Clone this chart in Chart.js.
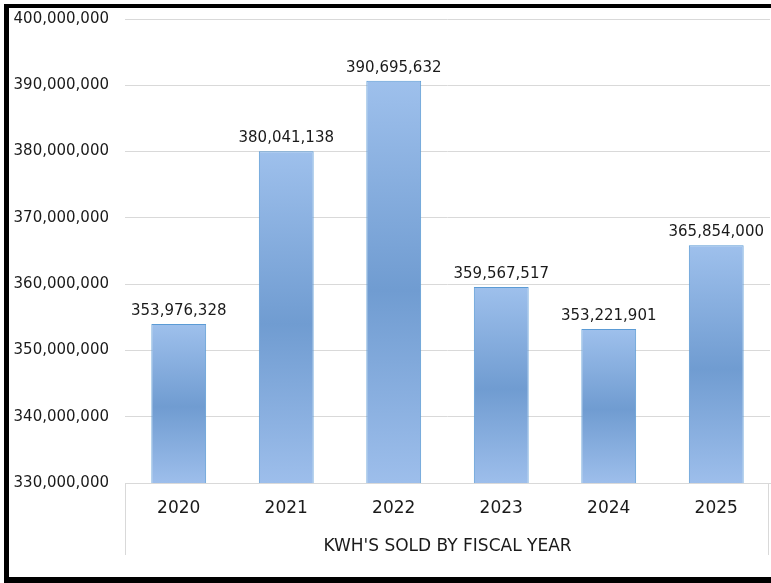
<!DOCTYPE html>
<html>
<head>
<meta charset="utf-8">
<script src="https://cdn.jsdelivr.net/npm/chart.js@4"></script>
<style>
  html, body { margin: 0; padding: 0; background: #fff; overflow: hidden; }
  #wrap { position: relative; width: 771px; height: 583px; overflow: hidden; }
  #kwh { position: absolute; left: 0; top: 0; }
  .rule { position: absolute; background: #000; pointer-events: none; }
</style>
</head>
<body>
<div id="wrap">
  <canvas id="kwh" width="771" height="583"></canvas>
  <div class="rule" style="left:4px; top:4px; width:767px; height:4px;"></div>
  <div class="rule" style="left:4px; top:4px; width:5px; height:579px;"></div>
  <div class="rule" style="left:4px; top:577px; width:767px; height:6px;"></div>
</div>
<script>
// Fiscal years and kilowatt-hours sold
const years = ['2020', '2021', '2022', '2023', '2024', '2025'];
const kwhSold = [353976328, 380041138, 390695632, 359567517, 353221901, 365854000];
const axisTitle = "KWH'S SOLD BY FISCAL YEAR";
const yMin = 330000000;
const yMax = 400000000;
const yStep = 10000000;

const FONT = 'DejaVu Sans, Verdana, sans-serif';
const TEXT = '#1a1a1a';
const GRID = '#d9d9d9';

const fmt = v => v.toLocaleString('en-US');

// Vertical shading per bar: light at both ends, darker around the middle
function barFill(ctx) {
  const chart = ctx.chart;
  const area = chart.chartArea;
  if (!area || ctx.raw == null) return '#8fb2e2';
  const top = chart.scales.y.getPixelForValue(ctx.raw);
  const g = chart.ctx.createLinearGradient(0, top, 0, area.bottom);
  g.addColorStop(0, '#9ec0ec');
  g.addColorStop(0.52, '#709cd1');
  g.addColorStop(1, '#9dbeeb');
  return g;
}

// Value labels above bars, category box lines and axis caption
const decorations = {
  id: 'decorations',
  afterDatasetsDraw(chart) {
    const { ctx } = chart;
    const meta = chart.getDatasetMeta(0);
    ctx.save();
    ctx.fillStyle = TEXT;
    ctx.font = '15px ' + FONT;
    ctx.textAlign = 'center';
    ctx.textBaseline = 'middle';
    meta.data.forEach((bar, i) => {
      ctx.fillText(fmt(kwhSold[i]), bar.x, bar.y - 13);
    });
    ctx.restore();
  },
  afterDraw(chart) {
    const { ctx, chartArea } = chart;
    ctx.save();
    ctx.strokeStyle = GRID;
    ctx.lineWidth = 1;
    ctx.beginPath();
    ctx.moveTo(chartArea.left + 0.5, chartArea.bottom);
    ctx.lineTo(chartArea.left + 0.5, chartArea.bottom + 72);
    ctx.moveTo(chartArea.right - 1.5, chartArea.bottom);
    ctx.lineTo(chartArea.right - 1.5, chartArea.bottom + 72);
    ctx.stroke();
    ctx.fillStyle = TEXT;
    ctx.font = '17px ' + FONT;
    ctx.textAlign = 'center';
    ctx.textBaseline = 'middle';
    ctx.fillText(axisTitle, (chartArea.left + chartArea.right) / 2, chartArea.bottom + 64);
    ctx.restore();
  }
};

new Chart(document.getElementById('kwh'), {
  type: 'bar',
  data: {
    labels: years,
    datasets: [{
      data: kwhSold,
      backgroundColor: barFill,
      borderColor: '#5b9bd5',
      borderWidth: 1,
      borderSkipped: 'bottom',
      categoryPercentage: 1,
      barPercentage: 0.51
    }]
  },
  options: {
    responsive: false,
    devicePixelRatio: 1,
    animation: false,
    layout: { padding: { top: 19, right: 1, bottom: 0, left: 0 } },
    plugins: { legend: { display: false }, tooltip: { enabled: false } },
    scales: {
      x: {
        grid: { display: false, drawTicks: false },
        border: { display: true, color: GRID, width: 1 },
        ticks: { color: TEXT, padding: 15, font: { family: FONT, size: 17 } },
        afterFit(scale) { scale.height = 100; }
      },
      y: {
        min: yMin,
        max: yMax,
        grid: { color: GRID, drawTicks: false },
        border: { display: false },
        ticks: {
          stepSize: yStep,
          color: TEXT,
          padding: 16,
          font: { family: FONT, size: 15 },
          callback: v => fmt(v)
        },
        afterFit(scale) {
          scale.width = 125;
          scale.paddingTop = 9;
          scale.paddingBottom = 0;
        }
      }
    }
  },
  plugins: [decorations]
});
</script>
</body>
</html>
